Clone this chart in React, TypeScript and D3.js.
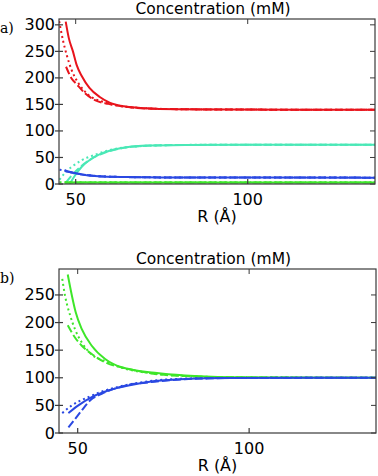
import React from "react";
import { scaleLinear, line, curveMonotoneX } from "d3";

// [R (Å), concentration (mM)]
type Pt = [number, number];

// panel a
const redSolid: Pt[] = [[47.1, 306], [48, 275], [49.2, 250], [50.3, 224], [51.8, 203], [54, 181], [57, 164], [60, 153], [64, 146.5], [70, 143], [80, 141], [95, 140.3], [137, 140]];
const redDotted: Pt[] = [[45.2, 307], [46.4, 268], [47.4, 243], [48.8, 215], [50.8, 190], [53.7, 168], [58.5, 154], [63, 147], [70, 143], [80, 141], [95, 140.3], [137, 140]];
const redDashed: Pt[] = [[47.2, 221], [48.8, 199], [50.3, 188], [52.7, 171], [55.6, 158], [59.5, 151], [65.2, 145], [72, 142], [82, 140.8], [95, 140.3], [137, 140]];

const tealSolid: Pt[] = [[48.3, 0.5], [49.8, 16], [51.7, 32], [54.7, 48], [58.5, 60], [63.4, 68], [69.2, 72], [81.8, 73.5], [100, 74], [137, 74]];
const tealDotted: Pt[] = [[45.3, 8], [47, 22], [48.8, 32], [51.7, 44.6], [55.6, 55], [60.5, 65], [66.3, 70], [75, 73], [90, 74], [137, 74]];
const tealDashed: Pt[] = [[47.2, 3], [49, 17], [51, 30], [54, 45], [58, 58], [63, 67], [69, 71.5], [80, 73.5], [100, 74], [137, 74]];

const blueSolidA: Pt[] = [[46.8, 26], [48, 23], [50, 20], [53.7, 16], [58, 14], [65, 13], [75, 12.3], [137, 12]];
const blueDottedA: Pt[] = [[45.3, 27], [47, 25], [49, 22], [52, 18], [56, 15], [62, 13.5], [72, 12.5], [137, 12]];
const blueDashedA: Pt[] = [[47, 24], [49, 21.5], [52, 18], [56, 15], [62, 13.5], [72, 12.5], [137, 12]];

const greenSolidA: Pt[] = [[46.8, 3], [137, 3]];
const greenDottedA: Pt[] = [[45.3, 3.5], [137, 3.5]];
const greenDashedA: Pt[] = [[47, 3], [137, 3]];

// panel b
const greenSolidB: Pt[] = [[47.1, 287], [48.3, 249], [49.4, 219], [51.2, 188], [54.1, 158], [58, 134], [62.8, 119], [72.5, 109], [81.3, 104], [95, 101], [110, 100.3], [137, 100]];
const greenDottedB: Pt[] = [[45.5, 279], [46.3, 249], [47.8, 213], [49.2, 188], [51.2, 164], [54.1, 142], [58, 130], [63, 118], [72.5, 107.5], [81.3, 103.5], [95, 101], [137, 100]];
const greenDashedB: Pt[] = [[47.1, 195], [49.2, 173], [51.2, 158], [54.1, 143], [58, 128], [64.8, 116], [72.5, 107], [81.3, 103], [95, 100.8], [137, 100]];

const blueSolidB: Pt[] = [[47.3, 36], [50.2, 50], [54.1, 65], [58.9, 77], [64.8, 86], [72.5, 94], [81.3, 98], [95, 99.6], [137, 100]];
const blueDottedB: Pt[] = [[45.5, 36], [48.3, 50], [53.1, 65], [58, 77], [62.8, 85], [72.5, 95], [81.3, 98.5], [95, 99.7], [137, 100]];
const blueDashedB: Pt[] = [[47.3, 10], [49.2, 25], [51.2, 41], [53.6, 59], [57, 71], [62.8, 84], [72.5, 93], [81.3, 97.5], [95, 99.5], [137, 100]];

const yTicksA = [0, 50, 100, 150, 200, 250, 300];
const yTicksB = [0, 50, 100, 150, 200, 250];
const xTicks = [50, 100];

const RED = "#e8141c";
const TEAL = "#4ae8b6";
const BLUE = "#2a48e2";
const GREEN = "#3ee62a";

const DOT = "2 3";
const DASH = "8 3";

type Series = { data: Pt[]; color: string; dash?: string };

const seriesA: Series[] = [
  { data: redSolid, color: RED },
  { data: redDotted, color: RED, dash: DOT },
  { data: redDashed, color: RED, dash: DASH },
  { data: tealSolid, color: TEAL },
  { data: tealDotted, color: TEAL, dash: DOT },
  { data: tealDashed, color: TEAL, dash: DASH },
  { data: blueSolidA, color: BLUE },
  { data: blueDottedA, color: BLUE, dash: DOT },
  { data: blueDashedA, color: BLUE, dash: DASH },
  { data: greenSolidA, color: GREEN },
  { data: greenDottedA, color: GREEN, dash: DOT },
  { data: greenDashedA, color: GREEN, dash: DASH },
];

const seriesB: Series[] = [
  { data: greenSolidB, color: GREEN },
  { data: greenDottedB, color: GREEN, dash: DOT },
  { data: greenDashedB, color: GREEN, dash: DASH },
  { data: blueSolidB, color: BLUE },
  { data: blueDottedB, color: BLUE, dash: DOT },
  { data: blueDashedB, color: BLUE, dash: DASH },
];

const SANS = "DejaVu Sans, sans-serif";
const AXIS = "#3a3a3a";
const FS = 16;

function Panel({ id, label, series, yTicks, yMax, xMin, box }: {
  id: string; label: string; series: Series[]; yTicks: number[]; yMax: number; xMin: number;
  box: { left: number; right: number; top: number; bottom: number };
}) {
  const x = scaleLinear().domain([xMin, 137]).range([box.left, box.right]);
  const y = scaleLinear().domain([0, yMax]).range([box.bottom, box.top]);
  const path = line<Pt>().x((d) => x(d[0])).y((d) => y(d[1])).curve(curveMonotoneX);
  const cx = (box.left + box.right) / 2;

  return (
    <g>
      <defs>
        <clipPath id={id}>
          <rect x={box.left} y={box.top} width={box.right - box.left} height={box.bottom - box.top} />
        </clipPath>
      </defs>
      <text x={cx - 4} y={box.top - 5} fontFamily={SANS} fontSize={15.5} textAnchor="middle">Concentration (mM)</text>
      <text x={0} y={box.top + 14} fontFamily="DejaVu Serif, serif" fontSize={14}>{label}</text>
      <g clipPath={`url(#${id})`}>
        {series.map((s, i) => (
          <path key={i} d={path(s.data) || ""} fill="none" stroke={s.color} strokeWidth={2}
            strokeDasharray={s.dash} />
        ))}
      </g>
      <rect x={box.left} y={box.top} width={box.right - box.left} height={box.bottom - box.top}
        fill="none" stroke={AXIS} strokeWidth={1.2} />
      {yTicks.map((t) => (
        <g key={t}>
          <line x1={box.left - 4} x2={box.left + 4} y1={y(t)} y2={y(t)} stroke={AXIS} strokeWidth={1.2} />
          <line x1={box.right - 5} x2={box.right} y1={y(t)} y2={y(t)} stroke={AXIS} strokeWidth={1} />
          <text x={box.left - 4} y={y(t) + 5.5} fontFamily={SANS} fontSize={FS} textAnchor="end">{t}</text>
        </g>
      ))}
      {xTicks.map((t) => (
        <g key={t}>
          <line x1={x(t)} x2={x(t)} y1={box.bottom} y2={box.bottom - 5} stroke={AXIS} strokeWidth={1.2} />
          <line x1={x(t)} x2={x(t)} y1={box.top} y2={box.top + 5} stroke={AXIS} strokeWidth={1} />
          <text x={x(t)} y={box.bottom + 21} fontFamily={SANS} fontSize={FS} textAnchor="middle">{t}</text>
        </g>
      ))}
      <text x={cx} y={box.bottom + 38} fontFamily={SANS} fontSize={FS} textAnchor="middle">R (Å)</text>
    </g>
  );
}

export default function App() {
  return (
    <svg width={378} height={476} style={{ position: "absolute", left: 0, top: 0, background: "#fff" }}>
      <Panel id="clipA" label="a)" series={seriesA} yTicks={yTicksA} yMax={311} xMin={45.15}
        box={{ left: 59, right: 375, top: 19, bottom: 184 }} />
      <Panel id="clipB" label="b)" series={seriesB} yTicks={yTicksB} yMax={297} xMin={44.55}
        box={{ left: 59, right: 376, top: 269, bottom: 433 }} />
    </svg>
  );
}
